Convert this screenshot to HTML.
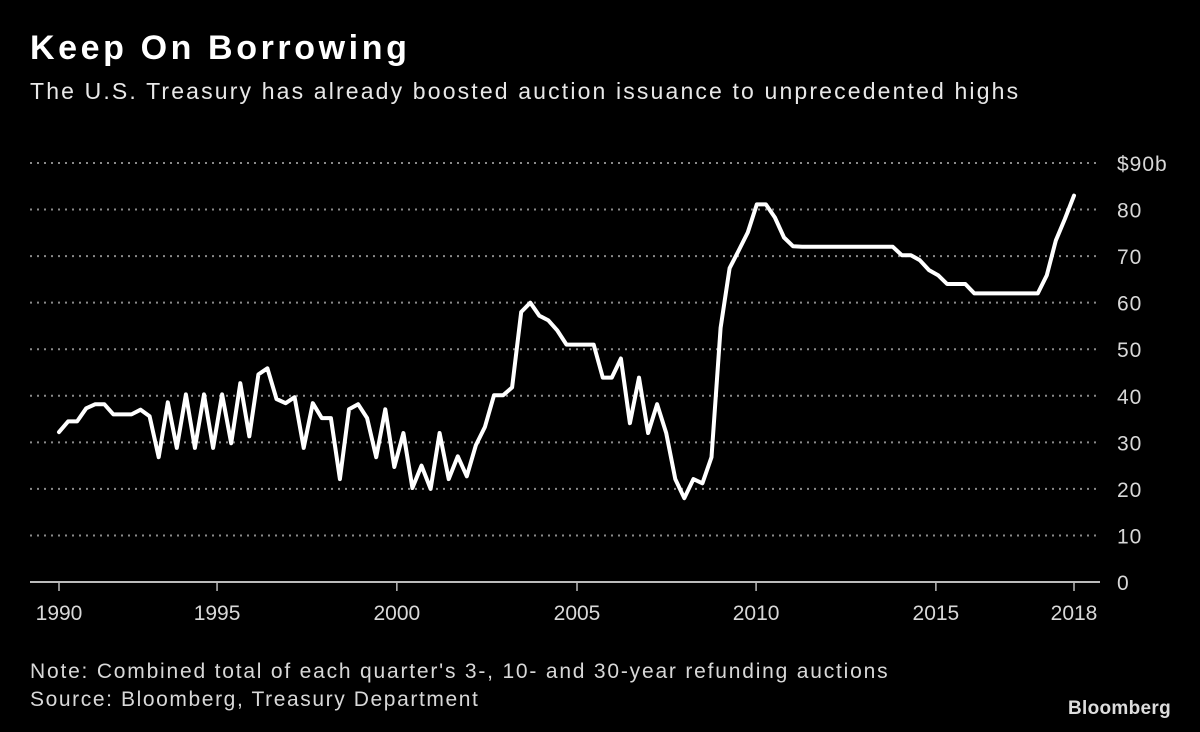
<!DOCTYPE html>
<html><head><meta charset="utf-8">
<style>
html,body{margin:0;padding:0;background:#000;}
body{width:1200px;height:732px;overflow:hidden;position:relative;font-family:"Liberation Sans",sans-serif;color:#fff;}
.t{position:absolute;white-space:nowrap;}
</style></head><body>
<div class="t" style="left:30px;top:29px;font-size:34px;font-weight:bold;letter-spacing:3.6px;">Keep On Borrowing</div>
<div class="t" style="left:30px;top:78px;font-size:23px;color:#e8e8e8;letter-spacing:2.15px;">The U.S. Treasury has already boosted auction issuance to unprecedented highs</div>
<svg id="chart" width="1200" height="732" style="position:absolute;left:0;top:0;"></svg>
<div class="t" style="left:30px;top:660px;font-size:21px;color:#d8d8d8;letter-spacing:1.8px;">Note: Combined total of each quarter's 3-, 10- and 30-year refunding auctions</div>
<div class="t" style="left:30px;top:688px;font-size:21px;color:#d8d8d8;letter-spacing:1.6px;">Source: Bloomberg, Treasury Department</div>
<div class="t" style="left:1068px;top:698px;font-size:19px;font-weight:bold;color:#ddd;letter-spacing:0.3px;">Bloomberg</div>
<script>
const startYear = 1990;
const quarterlyValues = [32.2,34.5,34.5,37.3,38.2,38.2,36,36,36,37,35.6,26.8,38.6,28.8,40.3,28.8,40.3,28.8,40.3,29.8,42.7,31.3,44.6,45.9,39.3,38.4,39.7,28.8,38.4,35.2,35.2,22.1,37.1,38.2,35.2,26.8,37.1,24.7,32,20.2,25,20,32,22.1,27,22.7,29.4,33.3,40.1,40.1,41.8,58,60,57.2,56.2,54,51,51,51,51,43.9,43.9,48,34.1,43.9,32,38.2,32,22.1,18,22.1,21.2,26.8,54.6,67.4,71.2,75.1,81.1,81.1,78.3,74,72.1,72,72,72,72,72,72,72,72,72,72,72,70.2,70.2,69.1,67,65.9,64,64,64,62,62,62,62,62,62,62,62,65.9,73.4,78,83];
const yTicks = [0,10,20,30,40,50,60,70,80,90];
const yTickLabels = ["0","10","20","30","40","50","60","70","80","$90b"];
const xTickLabels = ["1990","1995","2000","2005","2010","2015","2018"];
const xTickDates = [1990,1994.36,1999.32,2004.29,2009.23,2014.19,2018];

const svg = document.getElementById('chart');
const NS = 'http://www.w3.org/2000/svg';
const x = t => 59 + (t - 1990) * (1015 / 28);
const y = v => 582 - v * (419 / 90);
function mk(tag, attrs){const e=document.createElementNS(NS,tag);for(const k in attrs)e.setAttribute(k,attrs[k]);svg.appendChild(e);return e;}

yTicks.forEach((v,i)=>{
  if(v>0){
    const g=mk('line',{x1:30,x2:1100,y1:y(v),y2:y(v),stroke:'#8a8a8a','stroke-width':2,'stroke-dasharray':'2 5'});
    
    
  }
  const tx=mk('text',{x:1117,y:y(v)+8,fill:'#d8d8d8','font-size':21,'letter-spacing':1,'font-family':'Liberation Sans, sans-serif'});
  tx.textContent=yTickLabels[i];
  
  
});
const ax=mk('line',{x1:30,x2:1100,y1:582,y2:582,stroke:'#bbb','stroke-width':2});


xTickDates.forEach((d,i)=>{
  const tk=mk('line',{x1:x(d),x2:x(d),y1:582,y2:591,stroke:'#bbb','stroke-width':1.5});
  
  
  const tx=mk('text',{x:x(d),y:620,fill:'#d8d8d8','font-size':21,'text-anchor':'middle','font-family':'Liberation Sans, sans-serif'});
  tx.textContent=xTickLabels[i];
  
  
});
const pts=quarterlyValues.map((v,i)=>x(startYear+i/4).toFixed(1)+','+y(v).toFixed(1)).join(' ');
const line=mk('polyline',{points:pts,fill:'none',stroke:'#fff','stroke-width':4,'stroke-linejoin':'round','stroke-linecap':'round'});


</script>
</body></html>
